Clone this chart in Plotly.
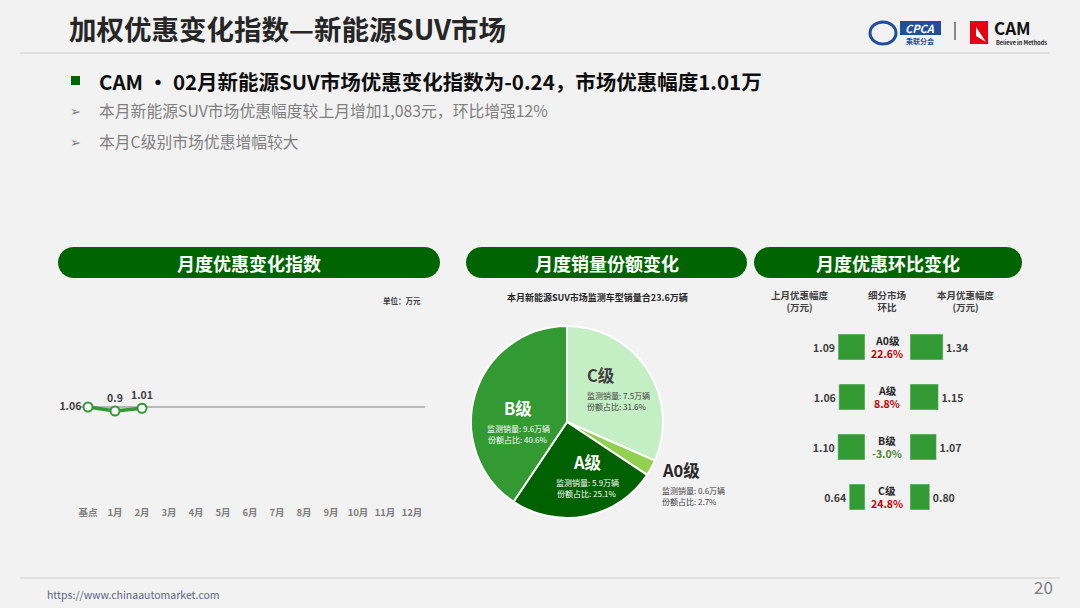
import math
import plotly.graph_objects as go

# --- data ---
months = ['基点', '1月', '2月', '3月', '4月', '5月', '6月', '7月', '8月', '9月', '10月', '11月', '12月']
discount = [1.06, 0.9, 1.01]          # 月度优惠幅度(万元)
base_level = 1.06

pie_grades = ['C级', 'A0级', 'A级', 'B级']
pie_sales = [7.5, 0.6, 5.9, 9.6]      # 万辆
pie_share = [31.6, 2.7, 25.1, 40.6]   # %

seg = ['A0级', 'A级', 'B级', 'C级']
last_month = [1.09, 1.06, 1.10, 0.64]
this_month = [1.34, 1.15, 1.07, 0.80]
mom = [22.6, 8.8, -3.0, 24.8]

W, H = 1080, 608
FONT = 'Noto Sans CJK SC'
GREEN = '#339933'
DARK = '#006400'


def px(x):
    return x / W


def py(y):
    return 1 - y / H


annotations = []
shapes = []


def text(x, y, s, size, color='#404040', bold=False, xanchor='center', yanchor='middle'):
    if bold:
        s = '<b>' + s + '</b>'
    annotations.append(dict(x=px(x), y=py(y), xref='paper', yref='paper', text=s, showarrow=False,
                            font=dict(size=size, color=color, family=FONT),
                            xanchor=xanchor, yanchor=yanchor, align=xanchor))


def pill(x0, x1, y0, y1, color):
    r = (y1 - y0) / 2
    pts = []
    for i in range(13):
        a = -math.pi / 2 + math.pi * i / 12
        pts.append((x1 - r + r * math.cos(a), y0 + r + r * math.sin(a)))
    for i in range(13):
        a = math.pi / 2 + math.pi * i / 12
        pts.append((x0 + r + r * math.cos(a), y0 + r + r * math.sin(a)))
    path = 'M ' + ' L '.join('%.5f,%.5f' % (px(a), py(b)) for a, b in pts) + ' Z'
    shapes.append(dict(type='path', path=path, xref='paper', yref='paper',
                       fillcolor=color, line=dict(width=0), layer='below'))


def rect(x0, y0, x1, y1, color):
    shapes.append(dict(type='rect', x0=px(x0), x1=px(x1), y0=py(y1), y1=py(y0), xref='paper', yref='paper',
                       fillcolor=color, line=dict(width=0), layer='above'))


def hline(x0, x1, y, color, width):
    shapes.append(dict(type='line', x0=px(x0), x1=px(x1), y0=py(y), y1=py(y), xref='paper', yref='paper',
                       line=dict(color=color, width=width)))


fig = go.Figure()

# --- 月度优惠变化指数 line ---
fig.add_trace(go.Scatter(
    x=list(range(len(discount))), y=discount, mode='lines+markers+text',
    text=['<b>%g</b>' % v for v in discount],
    textposition=['middle left', 'top center', 'top center'],
    textfont=dict(size=10.5, color='#404040', family=FONT),
    line=dict(color=GREEN, width=3.5),
    marker=dict(size=9, color='white', line=dict(color=GREEN, width=2)),
    cliponaxis=False, xaxis='x', yaxis='y', hoverinfo='skip'))
shapes.append(dict(type='line', xref='x', yref='y', x0=-0.3, x1=12.5, y0=base_level, y1=base_level,
                   line=dict(color='#7f7f7f', width=1.2), layer='below'))

# --- 月度销量份额变化 pie ---
fig.add_trace(go.Pie(
    labels=pie_grades, values=pie_share, sort=False, direction='clockwise', rotation=0,
    marker=dict(colors=['#C4EEC4', '#92D050', '#006100', '#339933'], line=dict(color='white', width=2)),
    textinfo='none', hoverinfo='label+percent',
    domain=dict(x=[px(567 - 96), px(567 + 96)], y=[py(422 + 96), py(422 - 96)])))

# --- 月度优惠环比变化 bars ---
fig.add_trace(go.Bar(
    y=seg, x=last_month, orientation='h', xaxis='x2', yaxis='y2', width=0.52,
    marker=dict(color=GREEN), texttemplate='<b>%{x:.2f}</b>', textposition='outside',
    textfont=dict(size=10.5, color='#404040', family=FONT), cliponaxis=False))
fig.add_trace(go.Bar(
    y=seg, x=this_month, orientation='h', xaxis='x3', yaxis='y3', width=0.52,
    marker=dict(color=GREEN), texttemplate='<b>%{x:.2f}</b>', textposition='outside',
    textfont=dict(size=10.5, color='#404040', family=FONT), cliponaxis=False))

# --- slide decoration ---
text(67, 28, '加权优惠变化指数—新能源SUV市场', 27.5, '#262626', True, 'left')
hline(20, 1050, 53, '#d9d9d9', 1.5)

# logos
shapes.append(dict(type='circle', x0=px(870), x1=px(896), y0=py(44), y1=py(22), xref='paper', yref='paper',
                   fillcolor='rgba(0,0,0,0)', line=dict(color='#1f4e9c', width=3)))
rect(900, 21, 941, 35, '#1f4e9c')
text(920, 28, '<i>CPCA</i>', 11, 'white', True)
text(920, 41, '乘联分会', 7, '#1f4e9c', True)
shapes.append(dict(type='line', x0=px(955), x1=px(955), y0=py(22), y1=py(40), xref='paper', yref='paper',
                   line=dict(color='#404040', width=1.2)))
rect(970, 21, 988, 44, '#e60012')
shapes.append(dict(type='path', xref='paper', yref='paper', fillcolor='white', line=dict(width=0),
                   path='M %f,%f L %f,%f L %f,%f Z' % (px(976), py(27), px(986), py(42), px(976), py(36))))
text(992, 27, 'CAM', 17, '#111111', True, 'left')
text(994, 43, 'Believe in Methods', 5.5, '#222222', True, 'left')

# bullets
rect(71, 76, 80, 85, DARK)
text(97, 81, 'CAM • 02月新能源SUV市场优惠变化指数为-0.24，市场优惠幅度1.01万', 20.5, '#0d0d0d', True, 'left')
text(75, 111, '➢', 13, '#7f7f7f', False)
text(97, 111, '本月新能源SUV市场优惠幅度较上月增加1,083元，环比增强12%', 15.8, '#7f7f7f', False, 'left')
text(75, 141, '➢', 13, '#7f7f7f', False)
text(97, 141, '本月C级别市场优惠增幅较大', 15.8, '#7f7f7f', False, 'left')

# panel headers
for (x0, x1), label in zip([(58, 440), (466, 747), (754, 1022)], ['月度优惠变化指数', '月度销量份额变化', '月度优惠环比变化']):
    pill(x0, x1, 247, 278, DARK)
    text((x0 + x1) / 2, 262.5, label, 18, 'white', True)

text(402, 300, '单位：万元', 7.5, '#404040', True)
text(597, 298, '本月新能源SUV市场监测车型销量合23.6万辆', 9, '#262626', True)

# pie labels
pie_label_pos = {'C级': (585, 375, 'left', '#404040'), 'B级': (518, 408, 'center', 'white'),
                 'A级': (587, 462, 'center', 'white'), 'A0级': (660, 470, 'left', '#262626')}
for g, s, p in zip(pie_grades, pie_sales, pie_share):
    x, y, anc, col = pie_label_pos[g]
    text(x, y, g, 16.5, col, True, anc)
    sub = col if col == 'white' else '#404040'
    text(x, y + 20, '监测销量: %g万辆' % s, 8, sub, False, anc)
    text(x, y + 31, '份额占比: %.1f%%' % p, 8, sub, False, anc)

# right panel headers and centre labels
text(800, 301, '上月优惠幅度<br>(万元)', 9.5, '#404040', True)
text(887, 301, '细分市场<br>环比', 9.5, '#404040', True)
text(966, 301, '本月优惠幅度<br>(万元)', 9.5, '#404040', True)
for i, (g, m) in enumerate(zip(seg, mom)):
    yc = 347 + 50 * i
    text(887, yc - 7, g, 10.5, '#262626', True)
    text(887, yc + 6, '%.1f%%' % m, 10.5, '#c00000' if m > 0 else '#548235', True)

# footer
hline(20, 1060, 578, '#d9d9d9', 1.5)
text(45, 594, 'https://www.chinaautomarket.com', 10.5, '#5b6486', False, 'left')
text(1055, 586, '20', 17, '#7f7f7f', False, 'right')

fig.update_layout(
    width=W, height=H, margin=dict(l=0, r=0, t=0, b=0),
    paper_bgcolor='#f2f2f2', plot_bgcolor='rgba(0,0,0,0)', showlegend=False,
    font=dict(family=FONT),
    xaxis=dict(domain=[px(74.5), px(425.5)], range=[-0.5, 12.5], tickmode='array',
               tickvals=list(range(len(months))), ticktext=['<b>%s</b>' % m for m in months],
               tickfont=dict(size=9.5, color='#7f7f7f'), showgrid=False, zeroline=False,
               showline=False, ticks='', fixedrange=True),
    yaxis=dict(domain=[py(505), py(300)], range=[-2.86, 5.34], visible=False, fixedrange=True),
    xaxis2=dict(domain=[px(800), px(865)], range=[2.63, 0], visible=False),
    yaxis2=dict(domain=[py(522), py(322)], range=[3.5, -0.5], visible=False, anchor='x2'),
    xaxis3=dict(domain=[px(910), px(975)], range=[0, 2.63], visible=False, anchor='y3'),
    yaxis3=dict(domain=[py(522), py(322)], range=[3.5, -0.5], visible=False, anchor='x3'),
    annotations=annotations, shapes=shapes,
)

fig.write_html("out.html", config={'displayModeBar': False},
               post_script="document.body.style.margin='0';")
